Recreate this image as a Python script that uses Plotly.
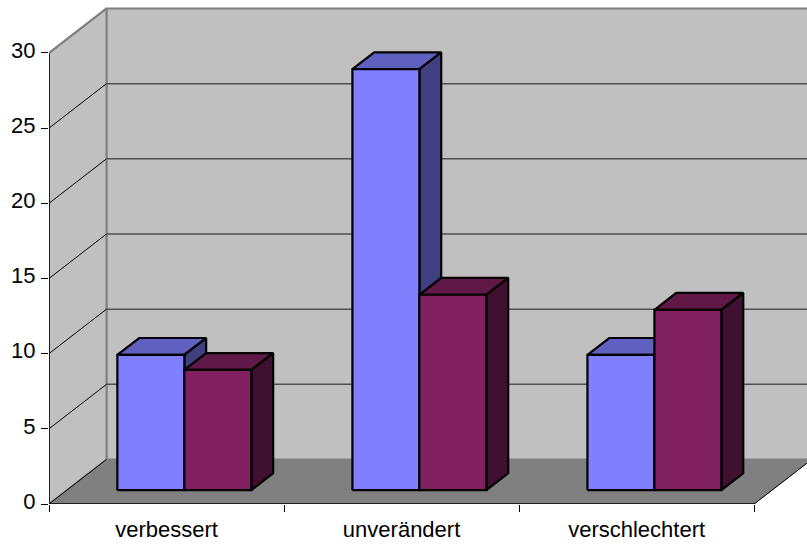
import plotly.graph_objects as go

# Chart data
categories = ["verbessert", "unverändert", "verschlechtert"]
series_a = [9, 28, 9]
series_b = [8, 13, 12]
y_ticks = [0, 5, 10, 15, 20, 25, 30]

# Oblique projection: a point at depth 1 is moved by these offsets in axis units
SHIFT_X = 0.2445
SHIFT_Y = 2.957
BAR_WIDTH = 0.285
BAR_DEPTH_FRONT = 0.31
BAR_DEPTH_BACK = 0.69
Y_MAX = 30


def project(x, y, depth=0.0):
    return x + depth * SHIFT_X, y + depth * SHIFT_Y


def polygon(points, fill, line_color, line_width):
    coords = [project(*p) for p in points]
    coords.append(coords[0])
    return go.Scatter(
        x=[c[0] for c in coords],
        y=[c[1] for c in coords],
        mode="lines",
        fill="toself",
        fillcolor=fill,
        line=dict(color=line_color, width=line_width),
        hoverinfo="skip",
        showlegend=False,
    )


def segment(points, color, width):
    coords = [project(*p) for p in points]
    return go.Scatter(
        x=[c[0] for c in coords],
        y=[c[1] for c in coords],
        mode="lines",
        line=dict(color=color, width=width),
        hoverinfo="skip",
        showlegend=False,
        cliponaxis=False,
    )


def box(x0, value, front, top, side):
    """Front, top and right faces of one column."""
    x1 = x0 + BAR_WIDTH
    d0, d1 = BAR_DEPTH_FRONT, BAR_DEPTH_BACK
    return [
        polygon([(x0, value, d0), (x1, value, d0), (x1, value, d1), (x0, value, d1)], top, "black", 2.2),
        polygon([(x1, 0, d0), (x1, 0, d1), (x1, value, d1), (x1, value, d0)], side, "black", 2.2),
        polygon([(x0, 0, d0), (x1, 0, d0), (x1, value, d0), (x0, value, d0)], front, "black", 2.2),
    ]


n = len(categories)
traces = []

# Walls and floor of the chart box
wall = "#C0C0C0"
edge = "#808080"
traces.append(polygon([(0, 0, 1), (n, 0, 1), (n, Y_MAX, 1), (0, Y_MAX, 1)], wall, edge, 2))
traces.append(polygon([(0, 0, 0), (0, 0, 1), (0, Y_MAX, 1), (0, Y_MAX, 0)], wall, edge, 2))
traces.append(polygon([(0, 0, 0), (n, 0, 0), (n, 0, 1), (0, 0, 1)], "#808080", "#808080", 1))

# Gridlines run along the side wall, then across the back wall
for v in y_ticks[1:-1]:
    traces.append(segment([(0, v, 0), (0, v, 1)], "black", 1))
    traces.append(segment([(0, v, 1), (n, v, 1)], "#505050", 1.5))

# Columns, left to right
for i in range(n):
    left = i + 0.5 - BAR_WIDTH
    traces += box(left, series_a[i], "#8080FF", "#6060C0", "#404080")
    traces += box(left + BAR_WIDTH, series_b[i], "#802060", "#601848", "#401030")

# Front edges of the box
traces.append(segment([(0, 0, 0), (0, Y_MAX, 0)], "black", 1.5))
traces.append(segment([(0, Y_MAX, 0), (0, Y_MAX, 1)], edge, 2))
traces.append(segment([(0, 0, 0), (n, 0, 0)], "black", 1.5))
traces.append(segment([(0, 0, 0), (0, 0, 1)], "black", 1))
traces.append(segment([(n, 0, 0), (n, 0, 1)], "black", 1))

fig = go.Figure(traces)

WIDTH, HEIGHT = 807, 545
LEFT, BOTTOM = 48.5, 40.5
PX_PER_CAT = 235.2
PX_PER_UNIT = 15.05

font = dict(family="Liberation Sans, Arial, sans-serif", size=22, color="black")

fig.update_layout(
    width=WIDTH,
    height=HEIGHT,
    margin=dict(l=LEFT, r=0, t=0, b=BOTTOM, pad=0),
    paper_bgcolor="white",
    plot_bgcolor="white",
    showlegend=False,
    xaxis=dict(
        range=[0, (WIDTH - LEFT) / PX_PER_CAT],
        tickmode="array",
        tickvals=[i + 0.5 for i in range(n)],
        ticktext=categories,
        ticks="",
        tickfont=font,
        ticklabelstandoff=10,
        showgrid=False,
        zeroline=False,
        showline=False,
        automargin=False,
        minor=dict(tick0=0, dtick=1, ticks="outside", ticklen=7, tickcolor="black", tickwidth=1, showgrid=False),
    ),
    yaxis=dict(
        range=[0, (HEIGHT - BOTTOM) / PX_PER_UNIT],
        tickmode="array",
        tickvals=y_ticks,
        ticks="outside",
        ticklen=7,
        tickcolor="black",
        tickwidth=1,
        tickfont=font,
        ticklabelshift=-3,
        ticklabelstandoff=1,
        showgrid=False,
        zeroline=False,
        showline=False,
        automargin=False,
    ),
)

fig.write_html("out.html", config=dict(displayModeBar=False))
